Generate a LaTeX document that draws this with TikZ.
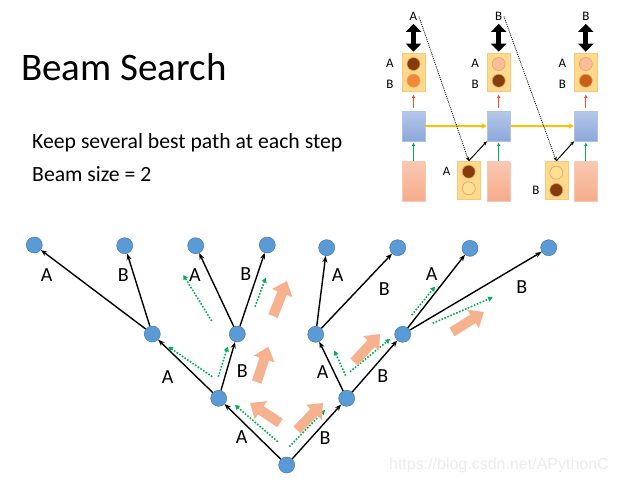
\documentclass[tikz,border=0pt]{standalone}
\usepackage{fontspec}
\setmainfont{Carlito}
\newfontfamily\wmfont{Liberation Sans}
\usetikzlibrary{arrows.meta,positioning,calc}

\definecolor{treeblue}{RGB}{91,155,213}
\definecolor{treeedge}{RGB}{70,120,170}
\definecolor{pathgreen}{RGB}{0,176,80}
\definecolor{salmon}{RGB}{246,178,142}
\definecolor{boxyellow}{RGB}{255,217,140}
\definecolor{boxedge}{RGB}{252,200,120}
\definecolor{hidtop}{RGB}{182,200,234}
\definecolor{hidbot}{RGB}{140,167,218}
\definecolor{hidedge}{RGB}{175,195,232}
\definecolor{intop}{RGB}{250,200,178}
\definecolor{inbot}{RGB}{246,172,138}
\definecolor{darkbrown}{RGB}{132,60,12}
\definecolor{midorange}{RGB}{240,136,56}
\definecolor{lightsalmon}{RGB}{248,190,155}
\definecolor{rust}{RGB}{200,95,20}
\definecolor{palecircle}{RGB}{255,224,150}
\definecolor{tokedge}{RGB}{236,160,95}
\definecolor{redarr}{RGB}{255,70,50}
\definecolor{goldarr}{RGB}{255,192,0}
\definecolor{wmgray}{RGB}{236,236,236}

\begin{document}
\begin{tikzpicture}[x=1pt,y=-1pt,
  state/.style={circle,fill=treeblue,draw=treeedge,line width=0.5pt,minimum size=16pt,inner sep=0pt},
  edge/.style={-{Stealth[length=6.5pt,width=5pt]},line width=1.4pt},
  lbl/.style={font=\fontsize{20}{20}\selectfont,inner sep=0pt},
  trace/.style={pathgreen,dash pattern=on 1.6pt off 1.6pt,line width=1.6pt,-{Triangle[length=4.5pt,width=5pt]}},
  push/.style={salmon,line width=10pt,-{Triangle[length=13pt,width=21pt]}},
  outbox/.style={rectangle,fill=boxyellow,draw=boxedge,line width=0.6pt,minimum width=23pt,minimum height=38pt,inner sep=0pt},
  hidbox/.style={rectangle,top color=hidtop,bottom color=hidbot,draw=hidedge,line width=0.6pt,minimum width=23pt,minimum height=30pt,inner sep=0pt},
  inbox/.style={rectangle,top color=intop,bottom color=inbot,draw=intop,line width=0.6pt,minimum width=23pt,minimum height=39pt,inner sep=0pt},
  tok/.style={circle,draw=tokedge,line width=0.6pt,minimum size=13pt,inner sep=0pt},
  small/.style={font=\fontsize{13}{13}\selectfont,inner sep=0pt},
  pick/.style={line width=5pt,{Triangle[length=8pt,width=15pt]}-{Triangle[length=8pt,width=15pt]}},
  ]
  \useasboundingbox (0,0) rectangle (619,483);

  % Title and text
  \node[anchor=base west,inner sep=0pt,font=\fontsize{39}{39}\selectfont] (title) at (21,80) {Beam Search};
  \node[anchor=base west,inner sep=0pt,font=\fontsize{21.7}{21.7}\selectfont] (keep) at (32,148) {Keep several best path at each step};
  \node[anchor=base west,inner sep=0pt,font=\fontsize{21.7}{21.7}\selectfont] (beam) at (32,181.5) {Beam size = 2};

  % Decoder columns (top right)
  \foreach \c/\x/\up/\lo/\w in {1/413.5/darkbrown/midorange/A, 2/498.7/lightsalmon/darkbrown/B, 3/585.8/lightsalmon/rust/B} {
    \node[hidbox] (hid\c) at (\x,126) {};
    \node[outbox] (out\c) at (\x,72.5) {};
    \node[inbox] (inp\c) at (\x,181.3) {};
    \node[tok,fill=\up] (o\c a) at (\x,64) {};
    \node[tok,fill=\lo] (o\c b) at (\x,80.7) {};
    \node[small] (ta\c) at (\x-23.5,63) {A};
    \node[small] (tb\c) at (\x-23.5,84) {B};
    \node[small] (pick\c) at (\x,16.5) {\w};
    \draw[pick] ($(pick\c.south)+(0,3)$) -- ($(out\c.north)+(0,-1.5)$);
    \draw[redarr,line width=1pt,-{Triangle[length=3pt,width=3pt]},shorten <=3pt,shorten >=3pt] (hid\c) -- (out\c);
    \draw[pathgreen,line width=1pt,-{Triangle[length=3pt,width=3pt]},shorten <=1pt,shorten >=1.5pt] (inp\c) -- (hid\c);
  }
  \draw[goldarr,line width=1.5pt,-{Triangle[length=5pt,width=5pt]}] (hid1) -- (hid2);
  \draw[goldarr,line width=1.5pt,-{Triangle[length=5pt,width=5pt]}] (hid2) -- (hid3);

  % Fed back tokens
  \node[outbox] (sa) at (468.7,180.2) {};
  \node[tok,fill=darkbrown] (sa1) at (468.7,171.7) {};
  \node[tok,fill=palecircle] (sa2) at (468.7,188.3) {};
  \node[small] (sal) at (446.7,171.7) {A};
  \node[outbox] (sb) at (556.3,180.2) {};
  \node[tok,fill=palecircle] (sb1) at (556.3,172.7) {};
  \node[tok,fill=darkbrown] (sb2) at (556.3,190) {};
  \node[small] (sbl) at (536,190.7) {B};
  \draw[line width=0.8pt,dash pattern=on 1pt off 1pt,-{Stealth[length=4pt,width=3.5pt]}] ($(pick1.east)+(1.5,0)$) -- (sa.north);
  \draw[line width=0.8pt,dash pattern=on 1pt off 1pt,-{Stealth[length=4pt,width=3.5pt]}] ($(pick2.east)+(1.5,0)$) -- (sb.north);
  \draw[line width=1pt,-{Stealth[length=4pt,width=3.5pt]}] (sa.north) -- (hid2.south west);
  \draw[line width=1pt,-{Stealth[length=4pt,width=3.5pt]}] (sb.north) -- (hid3.south west);

  % Search tree
  \foreach \n/\x/\y in {root/286.7/465, la/218.7/398.3, lb/346.7/398.3,
      m1/152.3/334, m2/237.3/334, m3/315.7/334.3, m4/402.7/334.3,
      t1/34.3/245, t2/124.7/245.7, t3/195.7/245.7, t4/267.3/245,
      t5/326.7/247.7, t6/397.7/247.7, t7/470/248.3, t8/548.7/247.7}
    \node[state] (\n) at (\x,\y) {};

  % Edges with their tokens
  \foreach \a/\b/\l/\lx/\ly in {root/la/A/241.7/437.3, root/lb/B/325/438.3,
      la/m1/A/167.7/376.7, la/m2/B/242.3/370.7, lb/m3/A/322.7/371.7, lb/m4/B/382.7/375.7,
      m1/t1/A/46.7/275, m1/t2/B/123.3/275, m2/t3/A/195/275, m2/t4/B/245.7/274,
      m3/t5/A/337.7/275, m3/t6/B/384.3/289, m4/t7/A/431.7/274.3, m4/t8/B/521.7/286.7} {
    \draw[edge] (\a) -- (\b);
    \node[lbl] (lab-\b) at (\lx,\ly) {\l};
  }

  % Green dotted traces
  \foreach \sx/\sy/\ex/\ey in {277.7/441.7/235/405, 289.3/446.7/325/410,
      212.3/376.7/168.3/346.7, 218.3/376.7/227.7/346.7,
      211.7/321/183.3/275, 255/306.7/265.7/277.7,
      345.7/375.7/334.3/350.7, 350/371.7/390/339,
      411.7/315/435/286.7, 432.7/323.3/492.7/297.3}
    \draw[trace] (\sx,\sy) -- (\ex,\ey);

  % Big salmon arrows
  \foreach \sx/\sy/\ex/\ey in {280/423/250/403, 297/430/323/403,
      256.7/382/268.3/346.7, 273/316/287/281,
      354/362/380/334, 452/332/484/312}
    \draw[push] (\sx,\sy) -- (\ex,\ey);

  % Watermark
  \node[anchor=base east,inner sep=0pt,text=wmgray,font=\wmfont\fontsize{16}{16}\selectfont] (wm) at (609,469) {https://blog.csdn.net/APythonC};
\end{tikzpicture}
\end{document}
